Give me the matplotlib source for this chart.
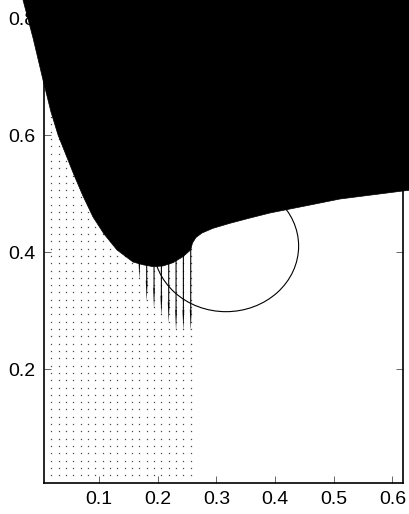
import numpy as np
import matplotlib.pyplot as plt
from matplotlib.patches import Polygon, Ellipse

plt.rcParams['font.family'] = ['Liberation Sans', 'DejaVu Sans']

# quiver grid, spacing 0.0125
grid_x = np.arange(0.01875, 0.26, 0.0125)
grid_y = np.arange(0.01875, 0.85, 0.0125)

# arrows pointing down out of the black region
arrow_x = [0.16875, 0.18125, 0.19375, 0.20625, 0.21875, 0.23125, 0.24375, 0.25625]
arrow_tip = [0.3527, 0.3156, 0.3031, 0.2899, 0.2786, 0.2655, 0.2655, 0.2655]
arrow_start = 0.44

# lower edge of the black region, left to right
edge_x = [-0.0295, -0.0124, 0.0046, 0.0182, 0.0302, 0.0438, 0.0574, 0.0727,
          0.0898, 0.1085, 0.1307, 0.1579, 0.1750, 0.1920, 0.2090, 0.2261,
          0.2431, 0.2559, 0.2593, 0.2652, 0.2755, 0.2942, 0.3232, 0.3572,
          0.3913, 0.4595, 0.5106, 0.6179, 0.6332]
edge_y = [0.8313, 0.7663, 0.6945, 0.6398, 0.6005, 0.5663, 0.5321, 0.4962,
          0.4603, 0.4313, 0.4039, 0.3834, 0.3786, 0.3754, 0.3766, 0.3822,
          0.3925, 0.4039, 0.4159, 0.4253, 0.4330, 0.4410, 0.4496, 0.4586,
          0.4672, 0.4808, 0.4911, 0.5048, 0.5065]

# ellipse
ell_center = (0.3164, 0.4106)
ell_w, ell_h = 0.2474, 0.2243

x_ticks = [0.1, 0.2, 0.3, 0.4, 0.5, 0.6]
y_ticks = [0.2, 0.4, 0.6, 0.8]

fig = plt.figure(figsize=(4.10, 5.14), dpi=100)
ax = fig.add_axes([0.1073, 0.0611, 0.8768, 0.9602])

# dot grid (zero-length arrows)
gx, gy = np.meshgrid(grid_x, grid_y)
ax.plot(gx.ravel(), gy.ravel(), 's', ms=0.9, mew=0, color='0.3', zorder=1)

ax.quiver(arrow_x, [arrow_start] * len(arrow_x), np.zeros(len(arrow_x)),
          np.array(arrow_tip) - arrow_start, angles='xy', scale_units='xy',
          scale=1, width=0.003, headwidth=1.7, headlength=20,
          headaxislength=19, color='k', zorder=2)

ax.add_patch(Ellipse(ell_center, ell_w, ell_h, fill=False, ec='k', lw=0.8,
                     zorder=2))

# black region, top part goes off the picture
poly_x = edge_x + [0.70, -0.10]
poly_y = edge_y + [0.95, 0.95]
ax.add_patch(Polygon(np.column_stack([poly_x, poly_y]), closed=True,
                     fc='k', ec='k', lw=0.5, clip_on=False, zorder=3))

ax.set_xlim(0.00625, 0.61875)
ax.set_ylim(0.00625, 0.85)
ax.set_xticks(x_ticks)
ax.set_xticklabels(['%.1f' % v for v in x_ticks])
ax.set_yticks(y_ticks)
ax.set_yticklabels(['%.1f' % v for v in y_ticks])
ax.tick_params(direction='in', length=5, width=0.6, labelsize=14, pad=6,
               right=True, top=True, color='0.3')
for s in ax.spines.values():
    s.set_linewidth(1.2)

fig.savefig('out.png', dpi=100)
